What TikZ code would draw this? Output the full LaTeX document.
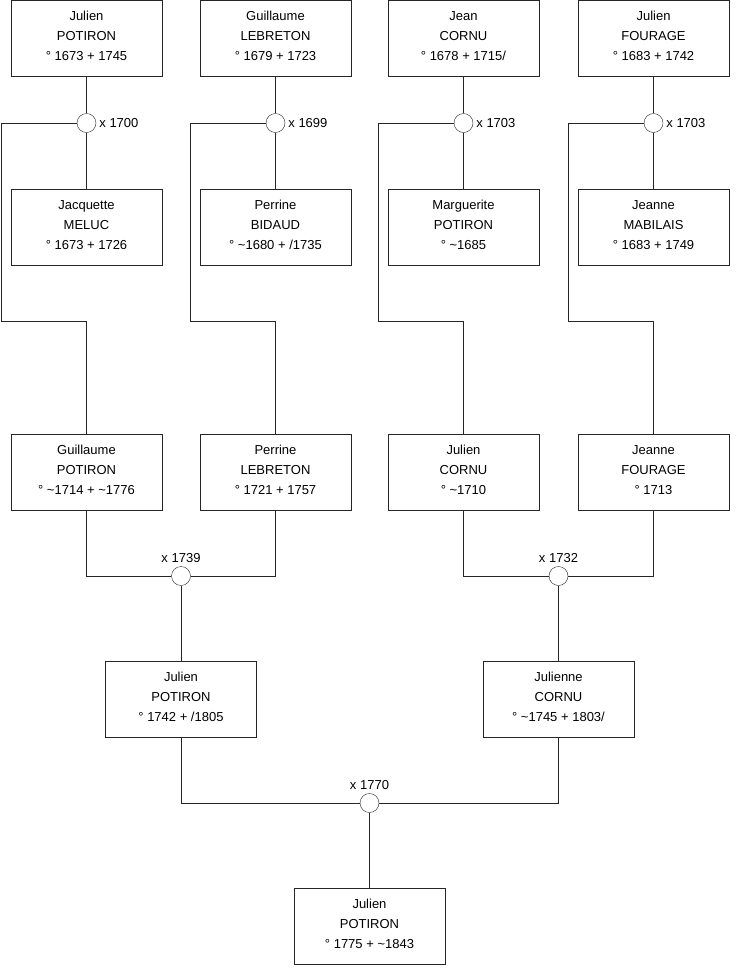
\documentclass[tikz,border=0pt]{standalone}
\usepackage{fontspec}
\setmainfont{Liberation Sans}
\begin{document}
\begin{tikzpicture}[x=1pt, y=-1pt, font=\fontsize{13}{20}\selectfont,
		personne/.style={draw=black!85, minimum width=151pt, minimum height=76pt, align=center, inner sep=0pt, text height=60pt, text depth=16pt},
		mariage/.style={draw=black!85, circle, minimum size=19pt, inner sep=0pt},
		lien/.style={draw=black!85}]
	\useasboundingbox (0,0) rectangle (740,975);
	% generation 1
	\node[personne] (jp1) at (86.5,38.5) {Julien\\POTIRON\\° 1673 + 1745};
	\node[personne] (gl1) at (275.5,38.5) {Guillaume\\LEBRETON\\° 1679 + 1723};
	\node[personne] (jc1) at (463.5,38.5) {Jean\\CORNU\\° 1678 + 1715/};
	\node[personne] (jf1) at (653.5,38.5) {Julien\\FOURAGE\\° 1683 + 1742};
	\node[mariage] (m1) at (86.5,123) {};
	\node[mariage] (m2) at (275.5,123) {};
	\node[mariage] (m3) at (463.5,123) {};
	\node[mariage] (m4) at (653.5,123) {};
	\node[anchor=west, inner sep=3pt] (dm1) at (m1.east) {x 1700};
	\node[anchor=west, inner sep=3pt] (dm2) at (m2.east) {x 1699};
	\node[anchor=west, inner sep=3pt] (dm3) at (m3.east) {x 1703};
	\node[anchor=west, inner sep=3pt] (dm4) at (m4.east) {x 1703};
	\node[personne] (jm1) at (86.5,227) {Jacquette\\MELUC\\° 1673 + 1726};
	\node[personne] (pb1) at (275.5,227) {Perrine\\BIDAUD\\° \char`~1680 + /1735};
	\node[personne] (mp1) at (463.5,227) {Marguerite\\POTIRON\\° \char`~1685};
	\node[personne] (jm2) at (653.5,227) {Jeanne\\MABILAIS\\° 1683 + 1749};
	% generation 2
	\node[personne] (gp2) at (86.5,472) {Guillaume\\POTIRON\\° \char`~1714 + \char`~1776};
	\node[personne] (pl2) at (275.5,472) {Perrine\\LEBRETON\\° 1721 + 1757};
	\node[personne] (jc2) at (463.5,472) {Julien\\CORNU\\° \char`~1710};
	\node[personne] (jf2) at (653.5,472) {Jeanne\\FOURAGE\\° 1713};
	\node[mariage] (m5) at (181,576) {};
	\node[mariage] (m6) at (558.5,576) {};
	\node[anchor=south, inner sep=3pt] (dm5) at (m5.north) {x 1739};
	\node[anchor=south, inner sep=3pt] (dm6) at (m6.north) {x 1732};
	% generation 3
	\node[personne] (jp3) at (181,699.5) {Julien\\POTIRON\\° 1742 + /1805};
	\node[personne] (jc3) at (558.5,699.5) {Julienne\\CORNU\\° \char`~1745 + 1803/};
	\node[mariage] (m7) at (369.5,803) {};
	\node[anchor=south, inner sep=3pt] (dm7) at (m7.north) {x 1770};
	\node[personne] (jp4) at (369.5,926) {Julien\\POTIRON\\° 1775 + \char`~1843};

	\coordinate (c1) at (1.5,321);
	\coordinate (c2) at (190.5,321);
	\coordinate (c3) at (378.5,321);
	\coordinate (c4) at (568.5,321);

	\draw[lien] (jp1) -- (m1) -- (jm1);
	\draw[lien] (gl1) -- (m2) -- (pb1);
	\draw[lien] (jc1) -- (m3) -- (mp1);
	\draw[lien] (jf1) -- (m4) -- (jm2);
	\draw[lien] (m1.west) -| (c1) -| (gp2.north);
	\draw[lien] (m2.west) -| (c2) -| (pl2.north);
	\draw[lien] (m3.west) -| (c3) -| (jc2.north);
	\draw[lien] (m4.west) -| (c4) -| (jf2.north);
	\draw[lien] (gp2.south) |- (m5.west);
	\draw[lien] (pl2.south) |- (m5.east);
	\draw[lien] (jc2.south) |- (m6.west);
	\draw[lien] (jf2.south) |- (m6.east);
	\draw[lien] (m5) -- (jp3);
	\draw[lien] (m6) -- (jc3);
	\draw[lien] (jp3.south) |- (m7.west);
	\draw[lien] (jc3.south) |- (m7.east);
	\draw[lien] (m7) -- (jp4);
\end{tikzpicture}
\end{document}
